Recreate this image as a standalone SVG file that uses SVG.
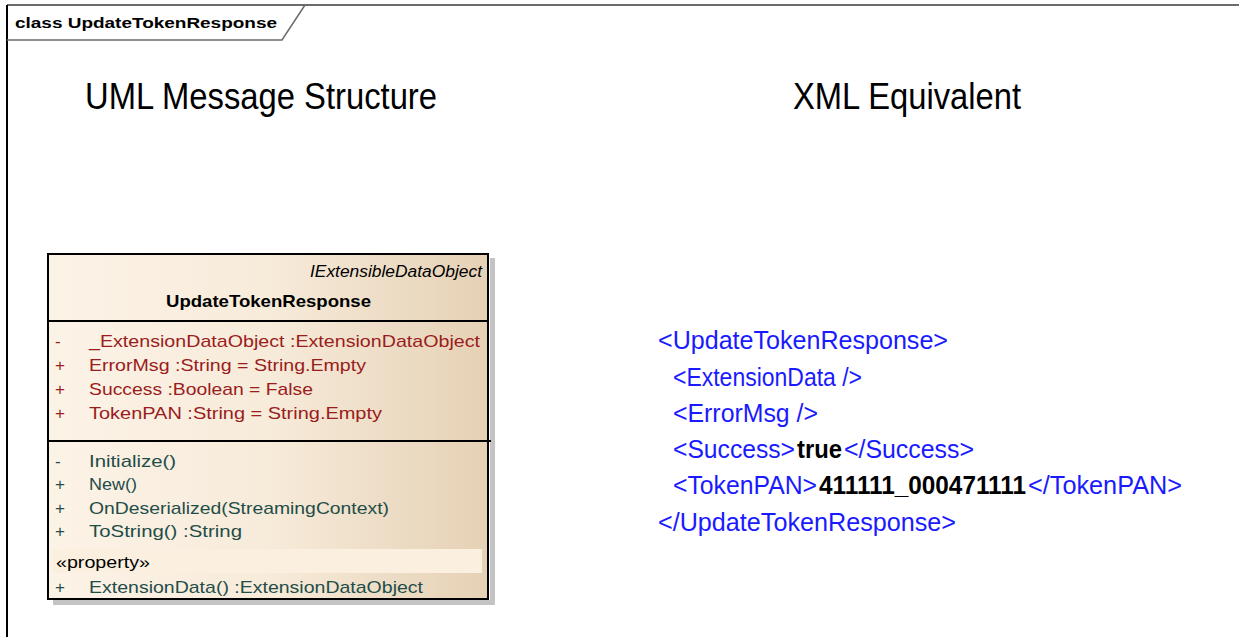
<svg xmlns="http://www.w3.org/2000/svg" width="1239" height="637" viewBox="0 0 1239 637">
  <style>
    .ui { font-family: "Liberation Sans", Arial, sans-serif; }
    .title { font-size: 37px; fill: #000; }
    .attr { font-size: 17px; fill: #9b1c1c; }
    .op { font-size: 17px; fill: #1f4d48; }
    .xml { font-size: 26px; fill: #1a1aff; }
    .val { font-weight: bold; fill: #000; }
  </style>
  <defs>
    <linearGradient id="classFill" x1="0" y1="0" x2="1" y2="0">
      <stop offset="0" stop-color="#fcf3e7"/>
      <stop offset="0.5" stop-color="#f7ebda"/>
      <stop offset="1" stop-color="#e5d1b5"/>
    </linearGradient>
  </defs>

  <rect x="0" y="0" width="1239" height="637" fill="#ffffff"/>

  <!-- diagram frame with name tab -->
  <g id="frame">
    <line x1="7" y1="5" x2="1239" y2="5" stroke="#6b6b6b" stroke-width="2"/>
    <line x1="7" y1="5" x2="7" y2="637" stroke="#000" stroke-width="2"/>
    <path d="M7 40 H282 L305 5" fill="none" stroke="#6b6b6b" stroke-width="1.5"/>
    <text class="ui" x="15" y="28" font-size="14" font-weight="bold" textLength="262" lengthAdjust="spacingAndGlyphs">class UpdateTokenResponse</text>
  </g>

  <!-- headings -->
  <g id="headings">
    <text class="ui title" x="85" y="109" textLength="352" lengthAdjust="spacingAndGlyphs">UML Message Structure</text>
    <text class="ui title" x="793" y="109" textLength="228" lengthAdjust="spacingAndGlyphs">XML Equivalent</text>
  </g>

  <!-- UML class -->
  <g id="class-UpdateTokenResponse">
    <rect x="490" y="258" width="5" height="346" fill="#c4c4c4"/>
    <rect x="53" y="600" width="442" height="5" fill="#c4c4c4"/>
    <rect x="48" y="254" width="440" height="345" fill="url(#classFill)" stroke="#000" stroke-width="2"/>
    <line x1="48" y1="321" x2="488" y2="321" stroke="#000" stroke-width="2"/>
    <line x1="48" y1="441" x2="491" y2="441" stroke="#000" stroke-width="2"/>
    <rect x="53" y="549" width="429" height="24" fill="#fbefdf"/>

    <text class="ui" x="482" y="277" font-size="16" font-style="italic" text-anchor="end" textLength="172" lengthAdjust="spacingAndGlyphs">IExtensibleDataObject</text>
    <text class="ui" x="166" y="307" font-size="17" font-weight="bold" textLength="205" lengthAdjust="spacingAndGlyphs">UpdateTokenResponse</text>

    <g class="ui attr">
      <text x="55" y="347">-</text>
      <text x="89" y="347" textLength="391" lengthAdjust="spacingAndGlyphs">_ExtensionDataObject  :ExtensionDataObject</text>
      <text x="55" y="371">+</text>
      <text x="89" y="371" textLength="277" lengthAdjust="spacingAndGlyphs">ErrorMsg  :String = String.Empty</text>
      <text x="55" y="395">+</text>
      <text x="89" y="395" textLength="224" lengthAdjust="spacingAndGlyphs">Success  :Boolean = False</text>
      <text x="55" y="419">+</text>
      <text x="89" y="419" textLength="293" lengthAdjust="spacingAndGlyphs">TokenPAN  :String = String.Empty</text>
    </g>

    <g class="ui op">
      <text x="55" y="467">-</text>
      <text x="89" y="467" textLength="87" lengthAdjust="spacingAndGlyphs">Initialize()</text>
      <text x="55" y="490">+</text>
      <text x="89" y="490" textLength="48" lengthAdjust="spacingAndGlyphs">New()</text>
      <text x="55" y="514">+</text>
      <text x="89" y="514" textLength="300" lengthAdjust="spacingAndGlyphs">OnDeserialized(StreamingContext)</text>
      <text x="55" y="537">+</text>
      <text x="89" y="537" textLength="153" lengthAdjust="spacingAndGlyphs">ToString()  :String</text>
      <text x="56" y="568" fill="#000" textLength="94" lengthAdjust="spacingAndGlyphs">«property»</text>
      <text x="55" y="593">+</text>
      <text x="89" y="593" textLength="334" lengthAdjust="spacingAndGlyphs">ExtensionData()  :ExtensionDataObject</text>
    </g>
  </g>

  <!-- XML sample: tags in blue, element values in bold black -->
  <g id="xml-sample" class="ui xml">
    <text x="658" y="349" textLength="290" lengthAdjust="spacingAndGlyphs">&lt;UpdateTokenResponse&gt;</text>
    <text x="673" y="386" textLength="189" lengthAdjust="spacingAndGlyphs">&lt;ExtensionData /&gt;</text>
    <text x="673" y="422" textLength="145" lengthAdjust="spacingAndGlyphs">&lt;ErrorMsg /&gt;</text>
    <text x="673" y="458" textLength="122" lengthAdjust="spacingAndGlyphs">&lt;Success&gt;</text>
    <text class="val" x="797" y="458" textLength="45" lengthAdjust="spacingAndGlyphs">true</text>
    <text x="844" y="458" textLength="130" lengthAdjust="spacingAndGlyphs">&lt;/Success&gt;</text>
    <text x="673" y="494" textLength="144" lengthAdjust="spacingAndGlyphs">&lt;TokenPAN&gt;</text>
    <text class="val" x="819" y="494" textLength="207" lengthAdjust="spacingAndGlyphs">411111_000471111</text>
    <text x="1028" y="494" textLength="154" lengthAdjust="spacingAndGlyphs">&lt;/TokenPAN&gt;</text>
    <text x="658" y="531" textLength="298" lengthAdjust="spacingAndGlyphs">&lt;/UpdateTokenResponse&gt;</text>
  </g>
</svg>
